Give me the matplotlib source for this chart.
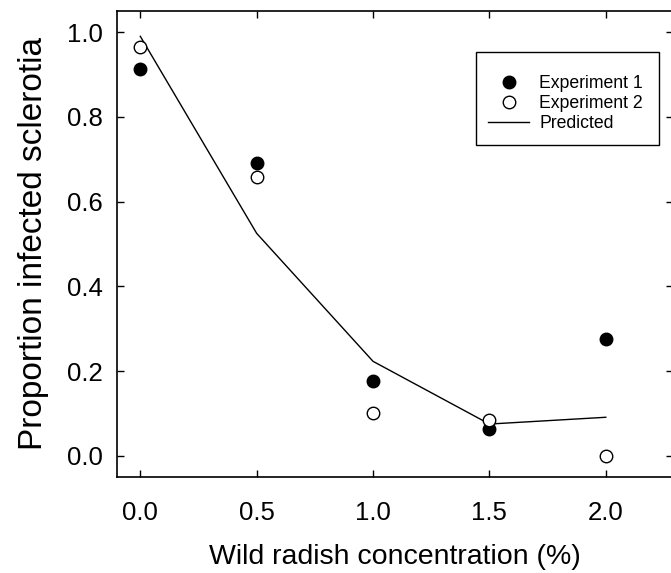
import matplotlib
matplotlib.use("Agg")
import matplotlib.pyplot as plt
from matplotlib.patches import Rectangle

plt.rcParams['font.family'] = ['Liberation Sans', 'DejaVu Sans']

conc = [0.0, 0.5, 1.0, 1.5, 2.0]
exp1 = [0.914, 0.690, 0.176, 0.063, 0.275]
exp2 = [0.964, 0.657, 0.100, 0.084, 0.000]
predicted = [0.990, 0.525, 0.223, 0.075, 0.091]
xticks = [0.0, 0.5, 1.0, 1.5, 2.0]
yticks = [0.0, 0.2, 0.4, 0.6, 0.8, 1.0]

W, H = 671, 573
fig = plt.figure(figsize=(W / 100, H / 100), dpi=100)
ax = fig.add_axes([0.1744, 0.1675, 0.829, 0.8135])

ax.plot(conc, exp1, 'o', color='black', markersize=9, label='Experiment 1', zorder=3)
ax.plot(conc, exp2, 'o', markerfacecolor='white', markeredgecolor='black', markeredgewidth=1.0,
        markersize=9, label='Experiment 2', zorder=3)
ax.plot(conc, predicted, '-', color='black', linewidth=1.0, label='Predicted', zorder=2)

ax.set_xlim(-0.1, 2.29)
ax.set_ylim(-0.05, 1.05)
ax.set_xticks(xticks)
ax.set_yticks(yticks)
ax.set_xticklabels([f'{v:.1f}' for v in xticks])
ax.set_yticklabels([f'{v:.1f}' for v in yticks])
ax.tick_params(direction='in', length=5, width=1, top=True, right=True, labelsize=18.5)
ax.tick_params(axis='x', pad=17)
ax.tick_params(axis='y', pad=10)
for s in ax.spines.values():
    s.set_linewidth(1.2)

ax.set_xlabel('Wild radish concentration (%)', fontsize=20.5, labelpad=14)
ax.set_ylabel('Proportion infected sclerotia', fontsize=24, labelpad=13)

# legend frame
frame = Rectangle((476 / W, 1 - 145 / H), (659 - 476) / W, (145 - 52) / H,
                  transform=fig.transFigure, fill=True, facecolor='white',
                  edgecolor='black', linewidth=1.0, zorder=4, clip_on=False)
ax.add_patch(frame)
leg = ax.legend(loc='upper left', bbox_to_anchor=(488 / W, 1 - 75 / H), bbox_transform=fig.transFigure,
                borderaxespad=0, borderpad=0, fontsize=12.7, frameon=False,
                handlelength=2.33, labelspacing=0.17, handletextpad=0.57)
leg.set_zorder(5)

fig.savefig('out.png', dpi=100)
